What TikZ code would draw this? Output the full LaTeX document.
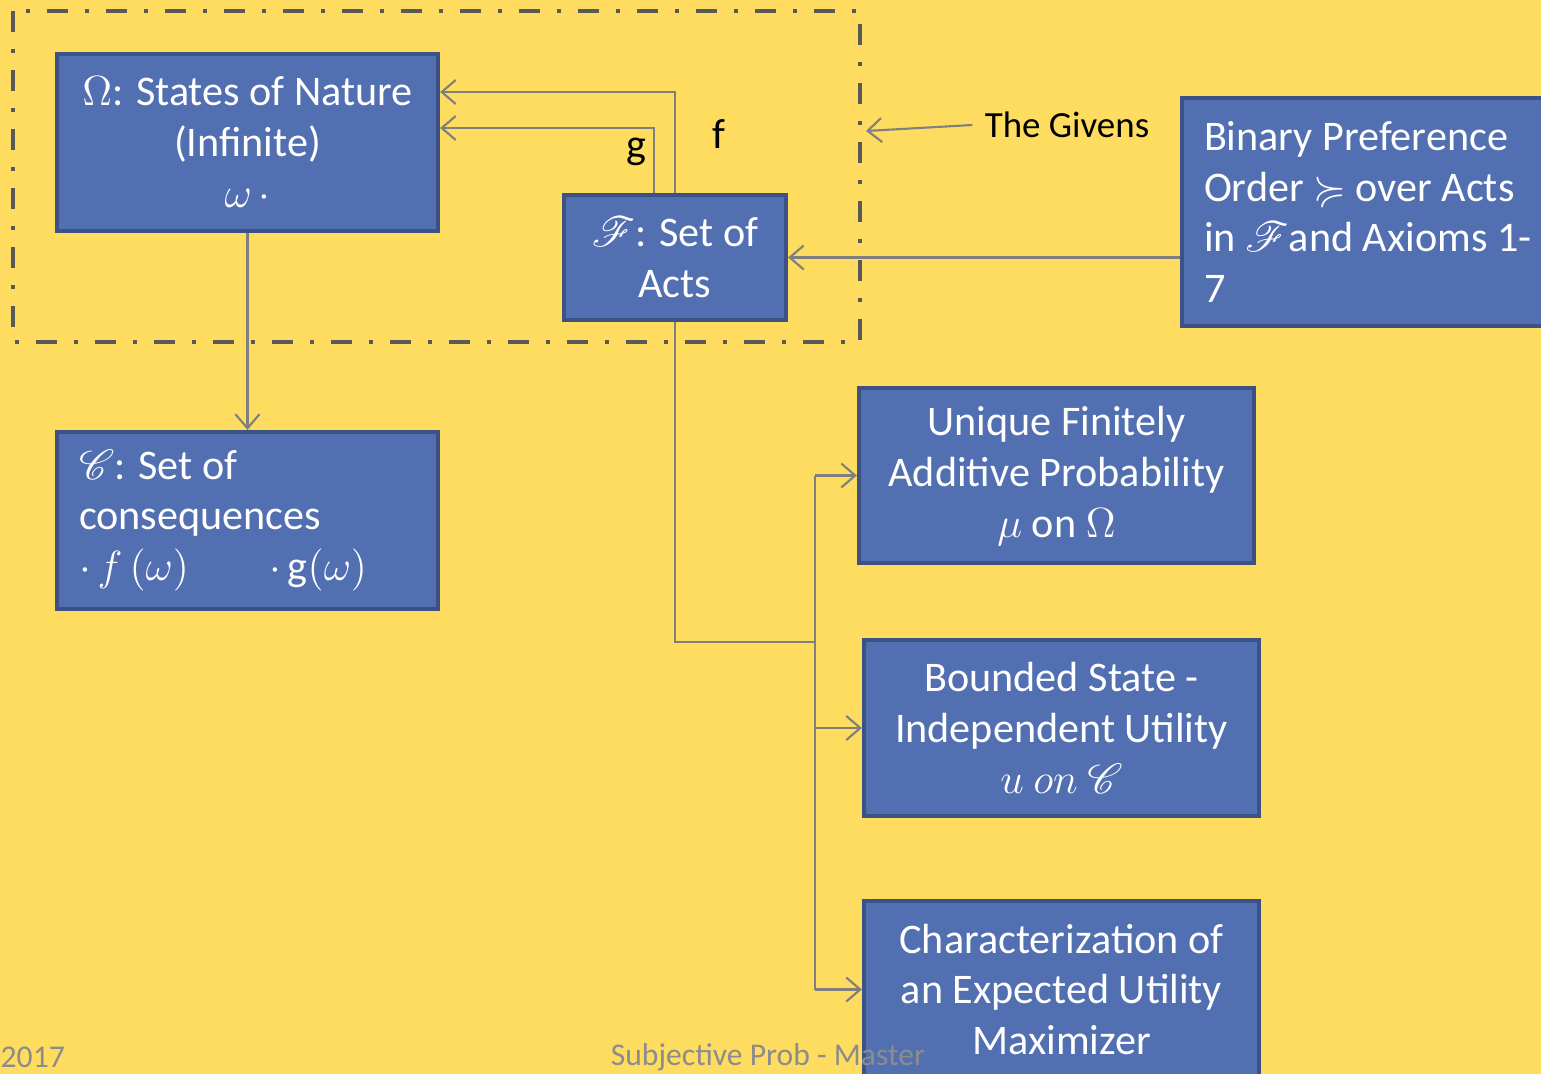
\documentclass[tikz,border=0pt]{standalone}
\usepackage{amsmath,amssymb}
\usepackage{mathrsfs}
\usepackage{fontspec}
\setmainfont{Carlito}
\usepackage{tikz}
\usetikzlibrary{arrows.meta,positioning}
\usepackage{xcolor}

\definecolor{slideyellow}{HTML}{FEDC5F}
\definecolor{boxblue}{HTML}{516FB1}
\definecolor{boxedge}{HTML}{3C5287}
\definecolor{linegray}{HTML}{7F7F7F}
\definecolor{framegray}{HTML}{595959}
\definecolor{footgray}{HTML}{8C8C8C}

\begin{document}
\begin{tikzpicture}[
  box/.style={draw=boxedge, fill=boxblue, line width=1.2pt, text=white, inner sep=0pt,
    align=center, font=\fontsize{12}{14.5}\selectfont},
  leftbox/.style={box, align=flush left, inner xsep=0.22cm},
  conn/.style={draw=linegray, line width=0.6pt},
  arrow/.style={conn, -{Straight Barb[length=1.4mm, width=2.4mm]}},
  label/.style={font=\fontsize{12}{14.5}\selectfont},
  foot/.style={font=\fontsize{9}{11}\selectfont, text=footgray}
]

% Background and page size
\fill[slideyellow] (0,0) rectangle (15.41,-10.74);
\useasboundingbox (0,0) rectangle (15.41,-10.74);

% The givens frame
\draw[framegray, line width=1.4pt, dash pattern=on 0.21cm off 0.17cm on 0.04cm off 0.17cm]
  (0.13,-0.11) rectangle (8.60,-3.42);

% Top row
\node[box, minimum width=3.81cm, minimum height=1.77cm] (states) at (2.475,-1.425)
  {$\Omega$: States of Nature\\(Infinite)\\$\omega\,\cdot$};
\node[box, minimum width=2.22cm, minimum height=1.25cm] (acts) at (6.75,-2.575)
  {$\mathscr{F}$: Set of\\Acts};
\node[leftbox, text width=3.54cm, minimum height=2.28cm] (prefs) at (13.81,-2.12)
  {Binary Preference\\Order ${\succcurlyeq}$ over Acts\\in $\mathscr{F}$and Axioms 1-\\7};
\node[label, font=\fontsize{10.5}{12}\selectfont] (givens) at (10.67,-1.25) {The Givens};
\coordinate (frameedge) at (8.66,-1.31);

% Consequences
\node[leftbox, text width=3.37cm, minimum height=1.77cm] (conseq) at (2.475,-5.205)
  {$\mathscr{C}$: Set of\\consequences\\$\cdot\, f\,(\omega)$\hspace{1.9em}$\cdot\,\mathrm{g}(\omega)$};

% Results
\node[box, minimum width=3.95cm, minimum height=1.75cm] (prob) at (10.565,-4.755)
  {Unique Finitely\\Additive Probability\\$\mu\ \mathrm{on}\ \Omega$};
\node[box, minimum width=3.95cm, minimum height=1.76cm] (util) at (10.615,-7.28)
  {Bounded State -\\Independent Utility\\$u\ on\ \mathscr{C}$};
\node[box, minimum width=3.95cm, minimum height=1.77cm] (maxim) at (10.615,-9.895)
  {Characterization of\\an Expected Utility\\Maximizer};

% Acts f and g
\coordinate (fturn) at (6.75,-0.92);
\coordinate (gturn) at (6.54,-1.28);
\draw[arrow] (acts.north -| fturn) -- (fturn) -- (states.east |- fturn);
\draw[arrow] (acts.north -| gturn) -- (gturn) -- (states.east |- gturn);
\node[label] (flabel) at (7.19,-1.34) {f};
\node[label] (glabel) at (6.36,-1.52) {g};

\draw[arrow] (states) -- (conseq);
\draw[arrow] (prefs.west |- acts.east) -- (acts.east);
\draw[arrow] (givens.west) -- (frameedge);

% Bus to the results
\coordinate (bus) at (8.15,-6.42);
\draw[conn] (acts.south) |- (bus);
\draw[conn] (prob.west -| bus) -- (maxim.west -| bus);
\draw[arrow] (prob.west -| bus) -- (prob.west);
\draw[arrow] (util.west -| bus) -- (util.west);
\draw[arrow] (maxim.west -| bus) -- (maxim.west);

% Footer
\node[foot, anchor=west, inner xsep=0pt] (year) at (0,-10.57) {2017};
\node[foot] (title) at (7.68,-10.57) {Subjective Prob - Master};

\end{tikzpicture}
\end{document}
